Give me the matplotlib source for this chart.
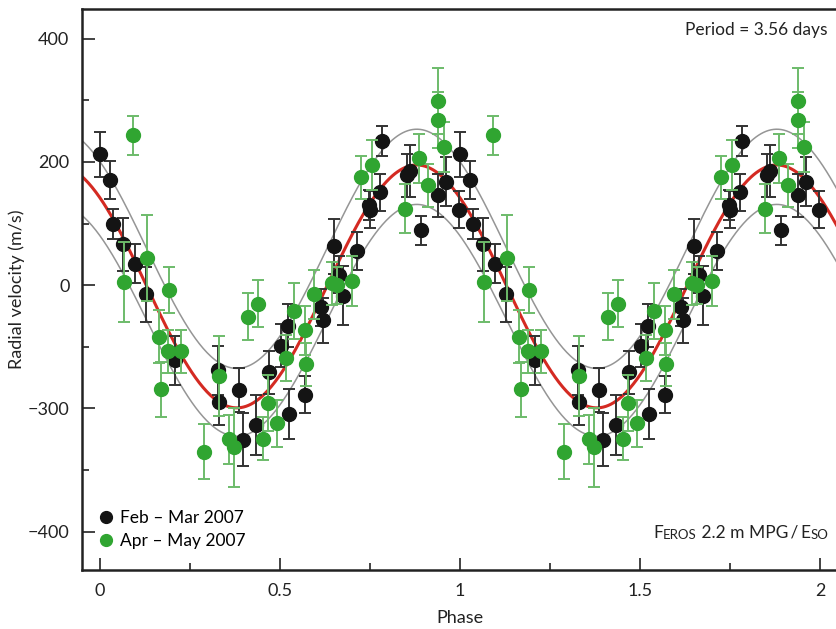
import numpy as np
import matplotlib
matplotlib.use("Agg")
import matplotlib.pyplot as plt
from matplotlib.lines import Line2D

plt.rcParams['font.family'] = ['Lato', 'DejaVu Sans']

# ---------------- data ----------------
# Feb - Mar 2007 (black)
feb_phase = [0.000, 0.029, 0.036, 0.063, 0.098, 0.128, 0.207, 0.329, 0.331, 0.386,
             0.398, 0.432, 0.469, 0.502, 0.523, 0.525, 0.569, 0.613, 0.620, 0.651,
             0.665, 0.674, 0.713, 0.748, 0.750, 0.778, 0.784, 0.854, 0.861, 0.893,
             0.938, 0.961, 0.997]
feb_rv = [212, 170, 99, 66, 35, -15, -122, -138, -189, -170,
          -251, -227, -141, -98, -66, -209, -178, -36, -57, 63,
          17, -17, 56, 130, 122, 151, 234, 178, 185, 89,
          146, 168, 122]
feb_err = [37, 31, 24, 43, 31, 45, 40, 40, 38, 35,
           43, 49, 35, 35, 35, 40, 30, 30, 37, 45,
           30, 48, 31, 25, 30, 30, 25, 35, 42, 24,
           35, 40, 30]

# Apr - May 2007 (green)
apr_phase = [0.068, 0.091, 0.131, 0.163, 0.170, 0.189, 0.193, 0.225, 0.289, 0.331,
             0.358, 0.373, 0.412, 0.440, 0.454, 0.466, 0.493, 0.517, 0.540, 0.569,
             0.571, 0.595, 0.644, 0.657, 0.699, 0.725, 0.755, 0.847, 0.887, 0.912,
             0.938, 0.940, 0.956]
apr_rv = [5, 243, 44, -84, -169, -107, -8, -107, -270, -148,
          -250, -263, -51, -30, -249, -191, -224, -118, -42, -73,
          -128, -15, 3, 0, 7, 175, 195, 124, 206, 162,
          299, 268, 224]
apr_err = [65, 32, 70, 43, 45, 35, 37, 35, 45, 65,
           40, 64, 38, 38, 35, 45, 38, 38, 45, 40,
           35, 40, 35, 30, 40, 35, 40, 40, 40, 35,
           54, 45, 40]

# sinusoidal orbit fit (offset, semi-amplitude) and phase of maximum
fit_offset, fit_K = -2, 197
upper_offset, upper_K = 59, 194
lower_offset, lower_K = -57, 188
phase_max = 0.88

x_ticks = [0, 0.5, 1, 1.5, 2]
x_ticklabels = ['0', '0.5', '1', '1.5', '2']
y_ticks = [-400, -200, 0, 200, 400]
y_ticklabels = ['\u2212400', '\u2212300', '0', '200', '400']

# ---------------- figure ----------------
W, H = 836, 629
fig = plt.figure(figsize=(W / 100, H / 100), dpi=100)
ax = fig.add_axes([82 / W, (H - 570) / H, 756 / W, 561 / H])
ax.set_xlim(-0.05, 2.05)
ax.set_ylim(-462, 448)

ph = np.linspace(-0.05, 2.05, 600)
arg = 2 * np.pi * (ph - phase_max)
ax.plot(ph, upper_offset + upper_K * np.cos(arg), color='#959595', lw=1.1, zorder=2)
ax.plot(ph, lower_offset + lower_K * np.cos(arg), color='#959595', lw=1.1, zorder=2)
ax.plot(ph, fit_offset + fit_K * np.cos(arg), color='#d42a22', lw=2.2, zorder=2)

for shift in (0, 1):
    ax.errorbar(np.array(feb_phase) + shift, feb_rv, yerr=feb_err, fmt='o',
                color='#141414', ms=10, ecolor='#333333', elinewidth=1.4,
                capsize=4.5, capthick=1.4, zorder=3)
    ax.errorbar(np.array(apr_phase) + shift, apr_rv, yerr=apr_err, fmt='o',
                color='#30a531', ms=10, ecolor='#6dbb6a', elinewidth=1.4,
                capsize=4.5, capthick=1.4, zorder=4)

ax.set_xticks(x_ticks)
ax.set_xticklabels(x_ticklabels)
ax.set_xticks(np.arange(0, 2.01, 0.25), minor=True)
ax.set_yticks(y_ticks)
ax.set_yticklabels(y_ticklabels)
ax.set_yticks(np.arange(-400, 401, 100), minor=True)
ax.tick_params(which='major', direction='in', length=9, width=1.2,
               labelsize=13, pad=9, colors='#222222')
ax.tick_params(which='minor', direction='in', length=5, width=1.2, colors='#222222')
for s in ax.spines.values():
    s.set_linewidth(1.8)
    s.set_color('#222222')

ax.set_xlabel('Phase', fontsize=13, color='#222222', labelpad=8)
ax.set_ylabel('Radial velocity (m/s)', fontsize=13, color='#222222', labelpad=2)

ax.text((828 - 82) / 756, (570 - 30) / 561, 'Period = 3.56 days', transform=ax.transAxes,
        ha='right', va='center', fontsize=12.5, color='#222222')

# "FEROS 2.2 m MPG / ESO" with small caps
pieces = [('F', 12.5), ('EROS', 9.5), (' 2.2 m MPG\u2009/\u2009', 12.5), ('E', 12.5), ('SO', 9.5)]
prev = ax.text((828 - 82) / 756, (570 - 541) / 561, pieces[-1][0], transform=ax.transAxes,
               ha='right', va='bottom', fontsize=pieces[-1][1], color='#222222')
for txt, fs in reversed(pieces[:-1]):
    prev = ax.annotate(txt, xy=(0, 0), xycoords=prev, ha='right', va='bottom',
                       fontsize=fs, color='#222222')

handles = [Line2D([], [], ls='none', marker='o', color='#141414', ms=8.5),
           Line2D([], [], ls='none', marker='o', color='#30a531', ms=8.5)]
ax.legend(handles, ['Feb \u2013 Mar 2007', 'Apr \u2013 May 2007'], loc='lower left',
          bbox_to_anchor=(0.006, 0.025), frameon=False, fontsize=12.5,
          handletextpad=0.15, handlelength=1.4, labelspacing=0.42, borderaxespad=0)

fig.savefig('out.png', dpi=100)
